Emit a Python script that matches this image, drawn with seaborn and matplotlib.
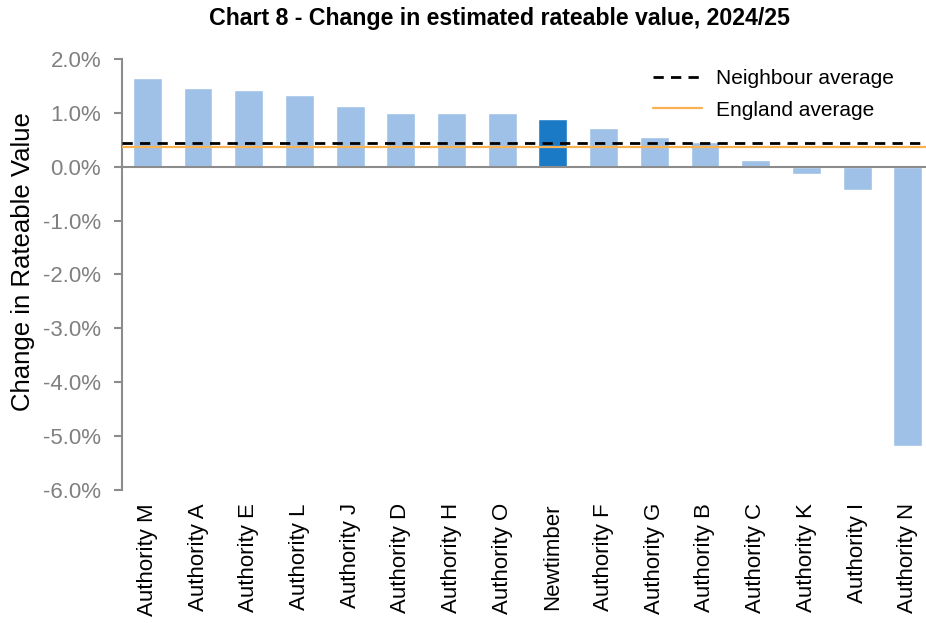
import seaborn as sns
import matplotlib.pyplot as plt
import pandas as pd
from matplotlib.ticker import FuncFormatter

# chart values (percent change in rateable value)
authorities = ['Authority M', 'Authority A', 'Authority E', 'Authority L', 'Authority J',
               'Authority D', 'Authority H', 'Authority O', 'Newtimber', 'Authority F',
               'Authority G', 'Authority B', 'Authority C', 'Authority K', 'Authority I',
               'Authority N']
change = [1.65, 1.46, 1.42, 1.33, 1.12, 0.99, 0.99, 0.99, 0.89, 0.72,
          0.55, 0.46, 0.12, -0.14, -0.44, -5.18]
neighbour_avg = 0.43
england_avg = 0.36
yticks = [2, 1, 0, -1, -2, -3, -4, -5, -6]

df = pd.DataFrame({'authority': authorities, 'change': change})

sns.set_style('white')
plt.rcParams['font.family'] = ['Liberation Sans', 'DejaVu Sans']
plt.rcParams['text.color'] = 'black'

light = '#9fc1e8'
dark = '#1a7ac6'
colours = {a: (dark if a == 'Newtimber' else light) for a in authorities}

fig = plt.figure(figsize=(9.26, 6.23), dpi=100)
ax = fig.add_axes([0.1317, 0.2135, 0.876, 0.692])

sns.barplot(data=df, x='authority', y='change', hue='authority', palette=colours,
            legend=False, width=0.57, ax=ax, saturation=1)

ax.axhline(0, color='#8c8c8c', lw=1.5, zorder=3)
ax.axhline(neighbour_avg, color='black', lw=2, ls=(0, (3.7, 2.6)), zorder=4,
           label='Neighbour average')
ax.axhline(england_avg, color='#f8b252', lw=1.6, zorder=4, label='England average')

ax.set_xlim(-0.5, len(authorities) - 0.5)
ax.set_ylim(-6, 2)
ax.set_yticks(yticks)
ax.yaxis.set_major_formatter(FuncFormatter(lambda v, p: f'{v:.1f}%'))

for s in ['top', 'right', 'bottom']:
    ax.spines[s].set_visible(False)
ax.spines['left'].set_color('#8c8c8c')
ax.spines['left'].set_linewidth(1.5)

ax.tick_params(axis='y', left=True, direction='out', length=6, width=1.5,
               color='#8c8c8c', labelcolor='#808080', labelsize=16, pad=9)
ax.tick_params(axis='x', bottom=False, labelsize=16, labelcolor='black', pad=6)
plt.setp(ax.get_xticklabels(), rotation=90)

ax.set_xlabel('')
ax.set_ylabel('')
fig.text(23 / 926, 1 - 262 / 623, 'Change in Rateable Value', rotation=90,
         fontsize=18.5, ha='center', va='center', color='black')

fig.text(500 / 926, 1 - 18 / 623, 'Chart 8 - Change in estimated rateable value, 2024/25',
         fontsize=16.7, fontweight='bold', ha='center', va='center', color='black')

leg = ax.legend(loc='upper left', bbox_to_anchor=(653 / 926, 1 - 69 / 623),
                bbox_transform=fig.transFigure, frameon=False, borderpad=0,
                borderaxespad=0, fontsize=15, handlelength=2.35, handletextpad=0.65,
                labelspacing=0.6)
for t in leg.get_texts():
    t.set_color('black')

fig.savefig('out.png', dpi=100)
